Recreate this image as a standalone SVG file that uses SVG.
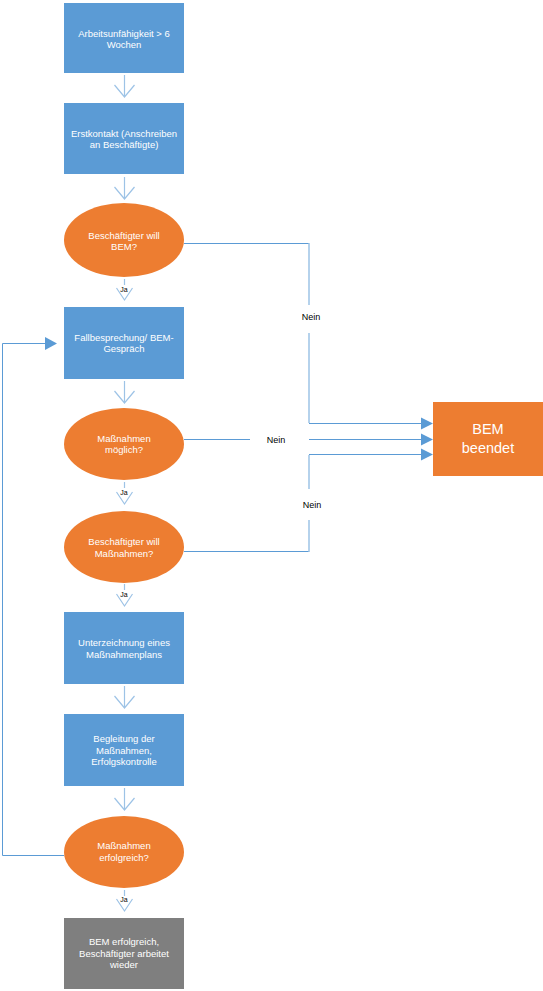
<svg xmlns="http://www.w3.org/2000/svg" width="543" height="991" viewBox="0 0 543 991">
<style>
.box{fill:#5B9BD5}
.dec{fill:#ED7D31}
.end{fill:#7F7F7F}
.t{font-family:"Liberation Sans",Arial,sans-serif;font-size:9.5px;fill:#FFFFFF;text-anchor:middle}
.big{font-family:"Liberation Sans",Arial,sans-serif;font-size:14.5px;fill:#FFFFFF;text-anchor:middle}
.lbl{font-family:"Liberation Sans",Arial,sans-serif;font-size:9px;fill:#000000;text-anchor:middle}
.ja{font-family:"Liberation Sans",Arial,sans-serif;font-size:7px;fill:#000000;text-anchor:middle}
.down{fill:none;stroke:#9DC3E6;stroke-width:1.2}
.conn{fill:none;stroke:#5B9BD5;stroke-width:1}
.connv{fill:none;stroke:#9DC3E6;stroke-width:1.5}
.head{fill:#5B9BD5}
</style>
<rect width="543" height="991" fill="#FFFFFF"/>
<g id="connectors">
<path class="down" d="M124.5 75V97M114.5 85L124.5 97L134.5 85"/>
<path class="down" d="M124.5 177V199M114.5 187L124.5 199L134.5 187"/>
<path class="down" d="M124.5 279V285M116.5 288L124.5 300L132.5 288"/>
<path class="down" d="M124.5 381V403M114.5 391L124.5 403L134.5 391"/>
<path class="down" d="M124.5 482V488M116.5 492L124.5 504L132.5 492"/>
<path class="down" d="M124.5 584V590M116.5 594L124.5 606L132.5 594"/>
<path class="down" d="M124.5 686V708M114.5 696L124.5 708L134.5 696"/>
<path class="down" d="M124.5 788V810M114.5 798L124.5 810L134.5 798"/>
<path class="down" d="M124.5 890V896M116.5 899L124.5 911L132.5 899"/>
<path class="conn" d="M184 243.5H309"/>
<path class="connv" d="M309 243V305M309 333V423"/>
<path class="conn" d="M309 423.5H423"/>
<polygon class="head" points="421,417.5 433,423.5 421,429.5"/>
<path class="conn" d="M184 439.5H250M309 439.5H423"/>
<polygon class="head" points="421,433.5 433,439.5 421,445.5"/>
<path class="conn" d="M184 551.5H309"/>
<path class="connv" d="M309 552V520M309 489V455"/>
<path class="conn" d="M309 454.5H423"/>
<polygon class="head" points="421,448.5 433,454.5 421,460.5"/>
<path class="conn" d="M64 855.5H2.5V343.5H46"/>
<polygon class="head" points="45,337 57,343.5 45,350"/>
<text class="lbl" x="311" y="320">Nein</text>
<text class="lbl" x="276" y="443">Nein</text>
<text class="lbl" x="312" y="508">Nein</text>
<text class="ja" x="124" y="292">Ja</text>
<text class="ja" x="124" y="495">Ja</text>
<text class="ja" x="124" y="597">Ja</text>
<text class="ja" x="124" y="902">Ja</text>
</g>
<g id="n1"><rect class="box" x="64" y="3" width="120" height="70"/><text class="t" x="124" y="36.5">Arbeitsunfähigkeit &gt; 6</text><text class="t" x="124" y="47.5">Wochen</text></g>
<g id="n2"><rect class="box" x="64" y="103" width="120" height="71"/><text class="t" x="124" y="136.5">Erstkontakt (Anschreiben</text><text class="t" x="124" y="148">an Beschäftigte)</text></g>
<g id="n3"><ellipse class="dec" cx="124" cy="240" rx="60" ry="37"/><text class="t" x="124" y="238.5">Beschäftigter will</text><text class="t" x="124" y="250">BEM?</text></g>
<g id="n4"><rect class="box" x="64" y="307" width="120" height="72"/><text class="t" x="124" y="340.5">Fallbesprechung/ BEM-</text><text class="t" x="124" y="352">Gespräch</text></g>
<g id="n5"><ellipse class="dec" cx="124" cy="444" rx="60" ry="36"/><text class="t" x="124" y="441.5">Maßnahmen</text><text class="t" x="124" y="453">möglich?</text></g>
<g id="n6"><ellipse class="dec" cx="124" cy="547" rx="60" ry="36"/><text class="t" x="124" y="545">Beschäftigter will</text><text class="t" x="124" y="556.5">Maßnahmen?</text></g>
<g id="n7"><rect class="box" x="64" y="612" width="120" height="72"/><text class="t" x="124" y="646">Unterzeichnung eines</text><text class="t" x="124" y="657.5">Maßnahmenplans</text></g>
<g id="n8"><rect class="box" x="64" y="714" width="120" height="72"/><text class="t" x="124" y="742">Begleitung der</text><text class="t" x="124" y="753.5">Maßnahmen,</text><text class="t" x="124" y="765">Erfolgskontrolle</text></g>
<g id="n9"><ellipse class="dec" cx="124" cy="852" rx="60" ry="36"/><text class="t" x="124" y="849">Maßnahmen</text><text class="t" x="124" y="860.5">erfolgreich?</text></g>
<g id="n10"><rect class="end" x="64" y="918" width="120" height="71"/><text class="t" x="124" y="945">BEM erfolgreich,</text><text class="t" x="124" y="956.5">Beschäftigter arbeitet</text><text class="t" x="124" y="968">wieder</text></g>
<g id="n11"><rect class="dec" x="433" y="402" width="110" height="74"/><text class="big" x="488" y="434">BEM</text><text class="big" x="488" y="453">beendet</text></g>
</svg>
